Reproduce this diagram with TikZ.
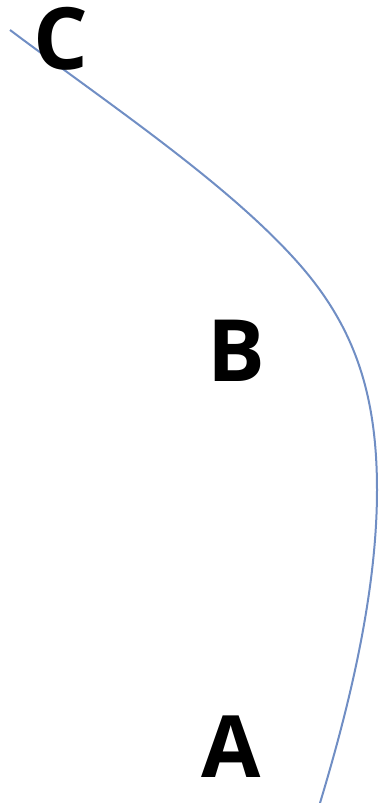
\documentclass[tikz,border=0pt]{standalone}
\usepackage{fontspec}
\setmainfont{Open Sans}
\definecolor{curveblue}{RGB}{112,142,196}
\begin{document}
\begin{tikzpicture}[x=1pt,y=-1pt,
  lbl/.style={font=\fontsize{86}{86}\selectfont\bfseries, inner sep=0pt, anchor=center, text=black},
  curve/.style={draw=curveblue, line width=2pt}]
\useasboundingbox (0,0) rectangle (380,803);
\coordinate (p0) at (10,30);
\coordinate (p1) at (300,265);
\coordinate (p2) at (377,490);
\coordinate (p3) at (320,803);
\draw[curve] (p0) .. controls (110,105) and (230,185) .. (p1)
  .. controls (355,328) and (377,395) .. (p2)
  .. controls (377,600) and (345,720) .. (p3);
\node[lbl] (C) at (61,39) {C};
\node[lbl] (B) at (236,351) {B};
\node[lbl] (A) at (231,747) {A};
\end{tikzpicture}
\end{document}
